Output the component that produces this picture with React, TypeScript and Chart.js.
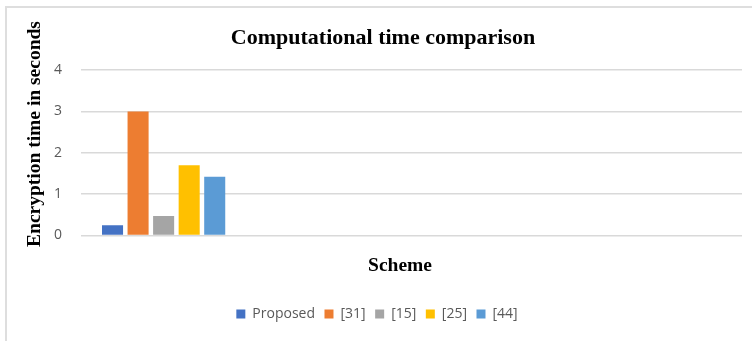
import React, { useEffect, useRef } from "react";
import { Chart, registerables } from "chart.js";

Chart.register(...registerables);

const categories: string[] = ["", "", "", ""];
const seriesNames: string[] = ["Proposed", "[31]", "[15]", "[25]", "[44]"];
const seriesValues: number[] = [0.25, 3.0, 0.47, 1.7, 1.42];
const seriesColors: string[] = ["#4472C4", "#ED7D31", "#A5A5A5", "#FFC000", "#5B9BD5"];
const yTicks: number[] = [0, 1, 2, 3, 4];

const chartTitle = "Computational time comparison";
const yTitle = "Encryption time in seconds";
const xTitle = "Scheme";

const SERIF = '"Liberation Serif", "Times New Roman", serif';
const SANS = '"Open Sans", "Noto Sans", sans-serif';

const titlesPlugin = {
  id: "excelTitles",
  afterDraw(chart: any) {
    const ctx = chart.ctx as CanvasRenderingContext2D;
    ctx.save();
    ctx.fillStyle = "#000000";
    ctx.textAlign = "center";
    ctx.textBaseline = "alphabetic";
    ctx.font = `bold 22px ${SERIF}`;
    ctx.fillText(chartTitle, 383, 44);
    ctx.font = `bold 19.5px ${SERIF}`;
    ctx.fillText(xTitle, 400, 271);
    ctx.translate(40, 134);
    ctx.rotate(-Math.PI / 2);
    ctx.fillText(yTitle, 0, 0);
    ctx.restore();
  },
};

export default function App() {
  const canvasRef = useRef<HTMLCanvasElement | null>(null);

  useEffect(() => {
    if (!canvasRef.current) return;
    const datasets = seriesNames.map((name, i) => ({
      label: name,
      data: categories.map((_, ci) => (ci === 0 ? seriesValues[i] : null)),
      backgroundColor: seriesColors[i],
      borderWidth: 0,
      categoryPercentage: 0.773,
      barPercentage: 0.824,
    }));
    const chart = new Chart(canvasRef.current, {
      type: "bar",
      data: { labels: categories, datasets },
      plugins: [titlesPlugin],
      options: {
        responsive: false,
        animation: false,
        devicePixelRatio: 1,
        layout: { padding: { top: 70, left: 12, right: 10, bottom: 10 } },
        plugins: {
          title: { display: false },
          tooltip: { enabled: false },
          legend: {
            position: "bottom",
            labels: {
              boxWidth: 9,
              boxHeight: 9,
              padding: 9.5,
              color: "#595959",
              font: { family: SANS, size: 14 },
            },
          },
        },
        scales: {
          x: {
            type: "category",
            grid: { display: false },
            border: { display: false },
            ticks: { display: false },
            afterFit: (s: any) => {
              s.height = 62;
            },
          },
          y: {
            min: yTicks[0],
            max: yTicks[yTicks.length - 1],
            afterBuildTicks: (s: any) => {
              s.ticks = yTicks.map((v) => ({ value: v }));
            },
            ticks: {
              color: "#595959",
              padding: 19,
              font: { family: SANS, size: 14 },
            },
            grid: { color: "#d9d9d9", lineWidth: 1.5, drawTicks: false },
            border: { display: false },
            afterFit: (s: any) => {
              s.width = 69;
            },
          },
        },
      },
    } as any);
    return () => chart.destroy();
  }, []);

  return (
    <div
      style={{
        position: "fixed",
        left: 0,
        top: 0,
        width: 752,
        height: 341,
        background: "#ffffff",
        overflow: "hidden",
      }}
    >
      <div
        style={{
          position: "absolute",
          left: 5,
          top: 6,
          width: 800,
          height: 400,
          borderTop: "2px solid #dedede",
          borderLeft: "2px solid #dedede",
        }}
      />
      <canvas
        ref={canvasRef}
        width={752}
        height={341}
        style={{ position: "absolute", left: 0, top: 0, width: 752, height: 341 }}
      />
    </div>
  );
}
